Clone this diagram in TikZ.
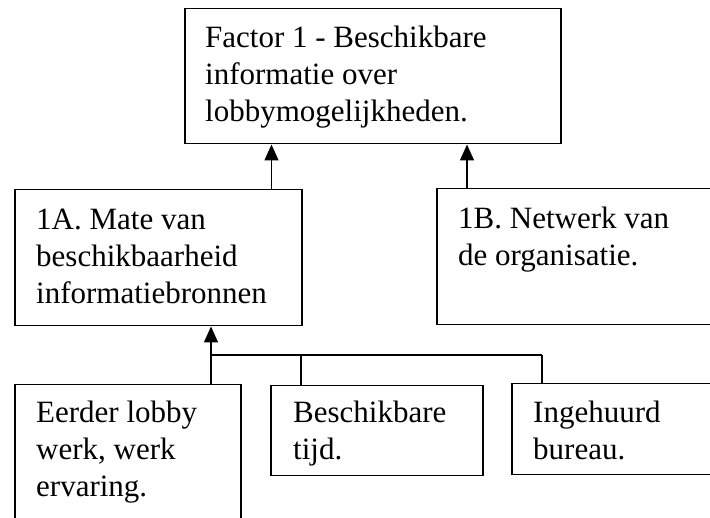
\documentclass[tikz,border=0pt]{standalone}
\usepackage{fontspec}
\setmainfont{Liberation Serif}
\usetikzlibrary{arrows.meta,calc}

\begin{document}
\begin{tikzpicture}[
    x=1pt, y=-1pt,
    box/.style={rectangle, draw, line width=1.5pt, anchor=north west, inner sep=0pt},
    txt/.style={anchor=north west, inner sep=0pt, align=left, font=\fontsize{31}{36.7}\selectfont},
    arr/.style={line width=1.5pt, -{Triangle[length=16pt,width=14pt]}},
    tak/.style={line width=1.5pt}
]
\useasboundingbox (0,0) rectangle (710,518);
\clip (0,0) rectangle (710,518);

% Factor en subfactoren
\node[box, minimum width=376pt, minimum height=135pt] (factor) at (184,8) {};
\node[box, minimum width=287pt, minimum height=136pt] (mate) at (14,189) {};
\node[box, minimum width=300pt, minimum height=136pt] (netwerk) at (436,188) {};

% Bronnen van informatie
\node[box, minimum width=226pt, minimum height=160pt] (eerder) at (14,384) {};
\node[box, minimum width=212pt, minimum height=90pt] (tijd) at (270,385) {};
\node[box, minimum width=220pt, minimum height=91pt] (bureau) at (511,383) {};

% Teksten
\node[txt] (factortxt) at ($(factor.north west)+(21,14)$) {\strut Factor 1 - Beschikbare\\informatie over\\lobbymogelijkheden.};
\node[txt] (matetxt) at ($(mate.north west)+(22,15)$) {\strut 1A. Mate van\\beschikbaarheid\\informatiebronnen};
\node[txt] (netwerktxt) at ($(netwerk.north west)+(22,15)$) {\strut 1B. Netwerk van\\de organisatie.};
\node[txt] (eerdertxt) at ($(eerder.north west)+(22,13)$) {\strut Eerder lobby\\werk, werk\\ervaring.};
\node[txt] (tijdtxt) at ($(tijd.north west)+(23,12)$) {\strut Beschikbare\\tijd.};
\node[txt] (bureautxt) at ($(bureau.north west)+(22,14)$) {\strut Ingehuurd\\bureau.};

% Pijlen naar factor
\draw[arr] ([xshift=-31pt]mate.north east) -- ([xshift=-31pt]mate.north east |- factor.south);
\draw[arr] ([xshift=31pt]netwerk.north west) -- ([xshift=31pt]netwerk.north west |- factor.south);

% Vertakking onder 1A
\coordinate (j1) at (211,355);
\coordinate (j2) at (301,355);
\coordinate (j3) at (542,355);
\draw[arr] (j1) -- (mate.south -| j1);
\draw[tak] (j1) -- (j3);
\draw[tak] (j1) -- (eerder.north -| j1);
\draw[tak] (j2) -- (tijd.north -| j2);
\draw[tak] (j3) -- (bureau.north -| j3);

\end{tikzpicture}
\end{document}
